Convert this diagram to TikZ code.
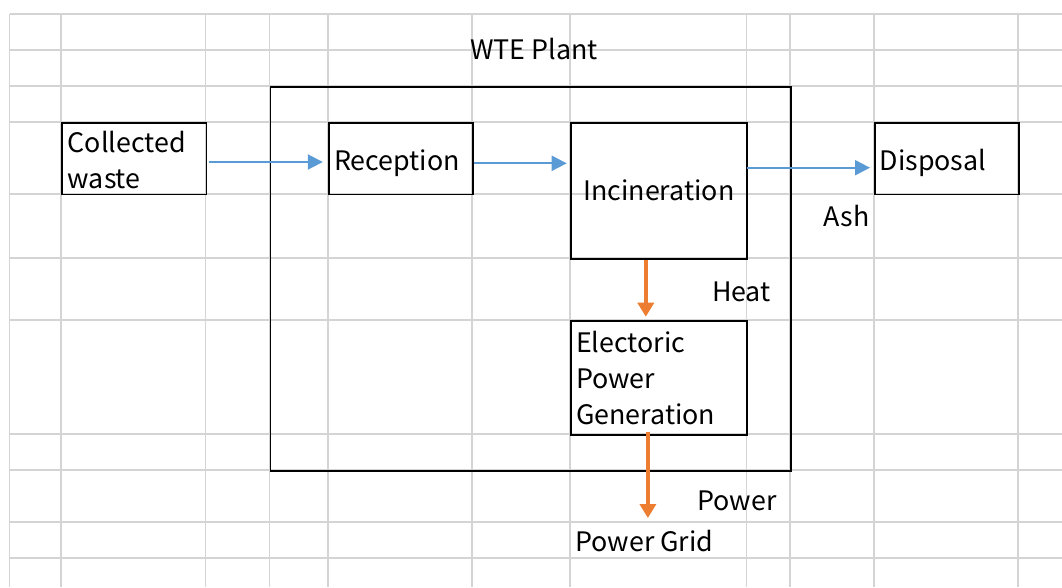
\documentclass[tikz,border=0pt]{standalone}
\usepackage{fontspec}
\setmainfont{Noto Sans CJK JP}
\usetikzlibrary{arrows.meta,calc}
\definecolor{gridgray}{HTML}{D4D4D4}
\definecolor{flowblue}{HTML}{5B9BD5}
\definecolor{floworange}{HTML}{ED7D31}
\tikzset{
  gridline/.style={draw=gridgray, line width=1.6pt},
  box/.style={draw=black, line width=1.7pt, anchor=north west, inner sep=0pt, fill=none},
  txt/.style={anchor=base west, inner sep=0pt, font=\fontsize{26.8}{30}\selectfont},
  bluearrow/.style={draw=flowblue, line width=2pt, -{Triangle[length=15pt,width=15pt]}},
  orangearrow/.style={draw=floworange, line width=3.5pt, -{Triangle[length=14pt,width=16pt]}}
}
\begin{document}
\begin{tikzpicture}[x=1pt,y=-1pt]
\useasboundingbox (0,0) rectangle (1062,587);
\fill[white] (0,0) rectangle (1062,587);
% spreadsheet grid
\foreach \gx in {9.6,61,205.6,269.6,327.8,471.8,570,746.4,790,874,1018}
  \draw[gridline] (\gx,14) -- (\gx,587);
\foreach \gy in {14,50,86,122,194,258,320,434,470,522,558}
  \draw[gridline] (9.6,\gy) -- (1062,\gy);
% boxes
\node[box, minimum width=520.4pt, minimum height=384pt] (plant) at (269.6,86) {};
\node[box, minimum width=144.6pt, minimum height=71.5pt] (cw) at (61,122) {};
\node[box, minimum width=144pt, minimum height=71.5pt] (rec) at (327.8,122) {};
\node[box, minimum width=176.4pt, minimum height=136pt] (inc) at (570,122) {};
\node[box, minimum width=144pt, minimum height=71.5pt] (dis) at (874,122) {};
\node[box, minimum width=176.4pt, minimum height=114pt] (epg) at (570,320) {};
% texts
\node[txt] (plantlbl) at (470,59.3) {WTE Plant};
\node[txt] (cwt1) at (67.5,152.7) {Collected};
\node[txt] (cwt2) at (67.5,188.3) {waste};
\node[txt] (rect) at (334,170) {Reception};
\node[txt] (inct) at (583.3,200) {Incineration};
\node[txt] (dist) at (879.5,170) {Disposal};
\node[txt] (ash) at (823.5,226.7) {Ash};
\node[txt] (heat) at (711.8,301.7) {Heat};
\node[txt] (epg1) at (576,352.3) {Electoric};
\node[txt] (epg2) at (576,388.3) {Power};
\node[txt] (epg3) at (576,424.3) {Generation};
\node[txt] (power) at (697.3,510) {Power};
\node[txt] (grid) at (575.3,551.7) {Power Grid};
\coordinate (gridin) at (647.9,518);
% connectors
\draw[bluearrow] ($(cw.north east)+(2,40)$) -- ($(rec.north west)+(-5,40)$);
\draw[bluearrow] ($(rec.north east)+(0,41.3)$) -- ($(inc.north west)+(-3.3,41.3)$);
\draw[bluearrow] ($(inc.north east)+(-1.4,45.7)$) -- ($(dis.north west)+(-4,45.7)$);
\draw[orangearrow] ($(inc.south west)+(75.8,0)$) -- ($(epg.north west)+(75.8,-3.3)$);
\draw[orangearrow] ($(epg.south west)+(77.9,-4)$) -- (gridin);
\end{tikzpicture}
\end{document}
